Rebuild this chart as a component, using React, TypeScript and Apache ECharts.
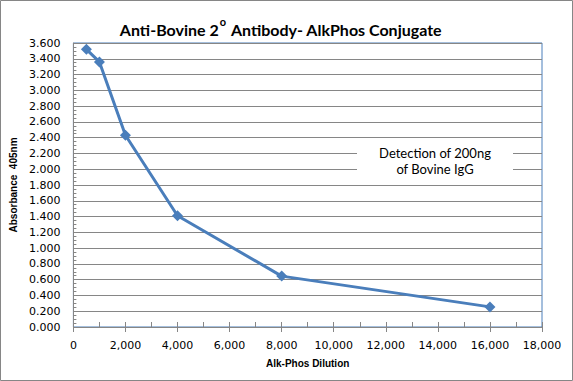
import React, { useEffect, useRef } from "react";
import * as echarts from "echarts";

const dilutions = [500, 1000, 2000, 4000, 8000, 16000];
const absorbance = [3.52, 3.36, 2.43, 1.41, 0.645, 0.255];
const titleMain = "Anti-Bovine 2";
const titleSup = "o";
const titleRest = " Antibody- AlkPhos Conjugate";
const xName = "Alk-Phos Dilution";
const yName = "Absorbance  405nm";
const noteLines = ["Detection of 200ng", "of Bovine IgG"];

const fmtX = (v: number) => String(v).replace(/\B(?=(\d{3})+(?!\d))/g, ",");

export default function App() {
  const ref = useRef<HTMLDivElement>(null);
  useEffect(() => {
    document.body.style.margin = "0";
    const chart = echarts.init(ref.current!, undefined, { renderer: "svg" });
    const grid = "#868686";
    const blue = "#4a7ebb";
    chart.setOption({
      animation: false,
      backgroundColor: "#fff",
      title: {
        text: `{a|${titleMain}}{s|${titleSup}}{a|${titleRest}}`,
        left: 276,
        textAlign: "center",
        top: 11,
        textStyle: {
          rich: {
            a: { fontFamily: "Lato", fontWeight: "bold", fontSize: 16, color: "#000", lineHeight: 21, verticalAlign: "bottom" },
            s: { fontFamily: "Lato", fontWeight: "bold", fontSize: 11, color: "#000", lineHeight: 21, verticalAlign: "top", padding: [0, 1, 0, 1] },
          },
        },
      },
      grid: {
        left: 71,
        right: 31,
        top: 43,
        bottom: 54,
        show: true,
        borderColor: blue,
        borderWidth: 1,
        backgroundColor: "transparent",
      },
      xAxis: [
        {
          type: "value",
          min: 0,
          max: 18000,
          interval: 2000,
          position: "bottom",
          name: xName,
          nameLocation: "middle",
          nameGap: 31,
          nameTextStyle: { fontFamily: "Liberation Sans", fontWeight: "bold", fontSize: 10, color: "#000" },
          axisLine: { show: true, lineStyle: { color: grid, width: 1 } },
          axisTick: { show: true, inside: true, length: 5, lineStyle: { color: grid } },
          minorTick: { show: true, splitNumber: 2, length: 5, lineStyle: { color: grid } },
          axisLabel: {
            fontFamily: "DejaVu Sans",
            fontSize: 11,
            color: "#000",
            margin: 13,
            formatter: (v: number) => fmtX(v),
          },
          splitLine: { show: false },
        },
        {
          type: "value",
          min: 0,
          max: 18000,
          interval: 2000,
          position: "bottom",
          offset: 0,
          axisLine: { show: false },
          axisTick: { show: true, inside: false, length: 5, lineStyle: { color: grid } },
          axisLabel: { show: false },
          splitLine: { show: false },
        },
      ],
      yAxis: {
        type: "value",
        min: 0,
        max: 3.6,
        interval: 0.2,
        name: yName,
        nameLocation: "middle",
        nameGap: 47,
        nameTextStyle: { fontFamily: "Liberation Sans", fontWeight: "bold", fontSize: 10, color: "#000" },
        axisLine: { show: true, lineStyle: { color: grid, width: 1 } },
        axisTick: { show: true, inside: true, length: 4, lineStyle: { color: grid } },
        minorTick: { show: true, splitNumber: 4, length: 3, lineStyle: { color: grid } },
        axisLabel: {
          fontFamily: "DejaVu Sans",
          fontSize: 11,
          color: "#000",
          margin: 13,
          formatter: (v: number) => v.toFixed(3),
        },
        splitLine: { show: true, lineStyle: { color: grid, width: 1 } },
      },
      graphic: [
        {
          type: "rect",
          shape: { x: 357, y: 141, width: 156, height: 41 },
          style: { fill: "#fff" },
          z: 10,
        },
        {
          type: "text",
          x: 435,
          y: 153,
          style: {
            text: noteLines[0],
            fontFamily: "Lato",
            fontSize: 13,
            fill: "#000",
            align: "center",
            verticalAlign: "middle",
          },
          z: 11,
        },
        {
          type: "text",
          x: 435,
          y: 169,
          style: {
            text: noteLines[1],
            fontFamily: "Lato",
            fontSize: 13,
            fill: "#000",
            align: "center",
            verticalAlign: "middle",
          },
          z: 11,
        },
        {
          type: "rect",
          shape: { x: 0.5, y: 0.5, width: 572, height: 380 },
          style: { fill: "none", stroke: grid, lineWidth: 1 },
          z: 20,
        },
      ],
      series: [
        {
          type: "line",
          xAxisIndex: 0,
          data: dilutions.map((d, i) => [d, absorbance[i]]),
          symbol: "diamond",
          symbolSize: 11,
          itemStyle: { color: blue },
          lineStyle: { color: blue, width: 3 },
          z: 5,
        },
      ],
    });
    return () => chart.dispose();
  }, []);
  return <div ref={ref} style={{ width: 573, height: 381 }} />;
}
